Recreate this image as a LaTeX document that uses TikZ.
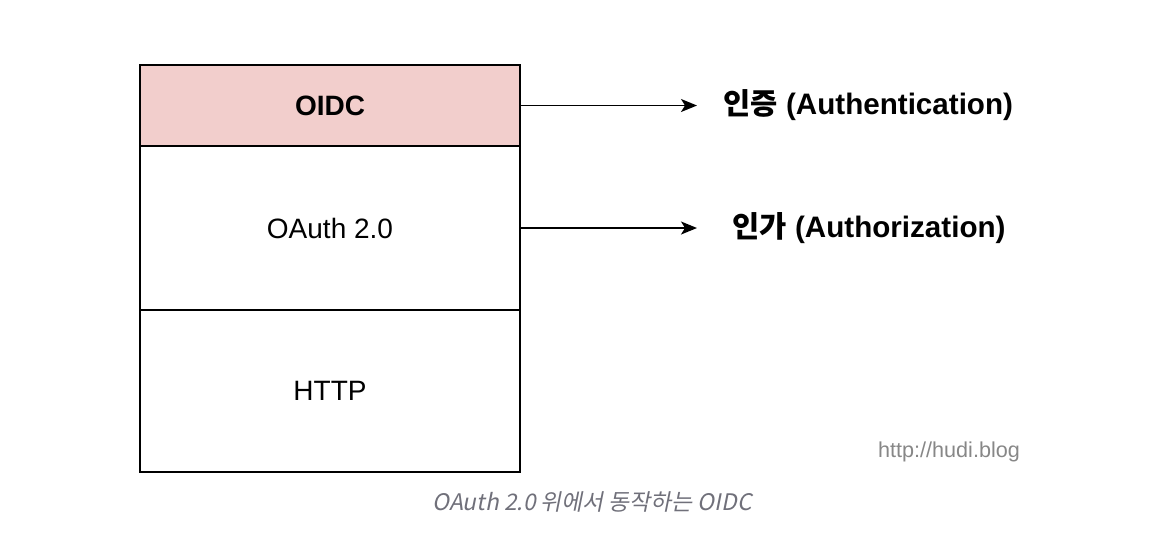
\documentclass[tikz,border=0pt]{standalone}
\usepackage{fontspec}
\setmainfont{Liberation Sans}
\newfontfamily\kr{Noto Sans CJK KR}
\newfontfamily\krcap[FakeSlant=0.2]{Noto Sans CJK KR}
\usetikzlibrary{
    arrows.meta,
    positioning
}
\tikzset{
  layer/.style = {draw, line width=0.75pt, outer sep=0pt, minimum width=190pt,
                  inner sep=0pt, font=\fontsize{14}{17}\selectfont},
  role/.style  = {inner sep=0pt, anchor=west,
                  font=\fontsize{14.8}{17}\selectfont\bfseries},
  arr/.style   = {-{Stealth[length=8pt,width=6.5pt,inset=2pt]}, line width=0.8pt}
}
\definecolor{OidcPink}{RGB}{242,206,204}
\definecolor{MarkGray}{RGB}{135,135,135}
\definecolor{CapGray}{RGB}{112,112,122}

\begin{document}
\begin{tikzpicture}[x=0.5pt, y=-0.5pt]
\useasboundingbox (0,0) rectangle (1154,554);
\node[layer, fill=OidcPink, minimum height=40.5pt, anchor=north west,
      font=\fontsize{14}{17}\selectfont\bfseries] (oidc) at (140,65) {OIDC};
\node[layer, below=0pt of oidc, minimum height=82pt] (oauth) {OAuth 2.0};
\node[layer, below=0pt of oauth, minimum height=81pt] (http) {HTTP};
\node[role] (authn) at (723,105) {{\kr 인증} (Authentication)};
\node[role] (authz) at (732,228) {{\kr 인가} (Authorization)};
\coordinate (authnTip) at (697,0);
\draw[arr] (oidc.east) -- (oidc.east -| authnTip);
\draw[arr] (oauth.east) -- (oauth.east -| authnTip);
\node[text=MarkGray, font=\fontsize{10.8}{12}\selectfont] (mark) at (949,452) {http://hudi.blog};
\node[text=CapGray, font=\krcap\fontsize{11.4}{13}\selectfont] (caption) at (592,502) {OAuth 2.0 위에서 동작하는 OIDC};
\end{tikzpicture}
\end{document}
